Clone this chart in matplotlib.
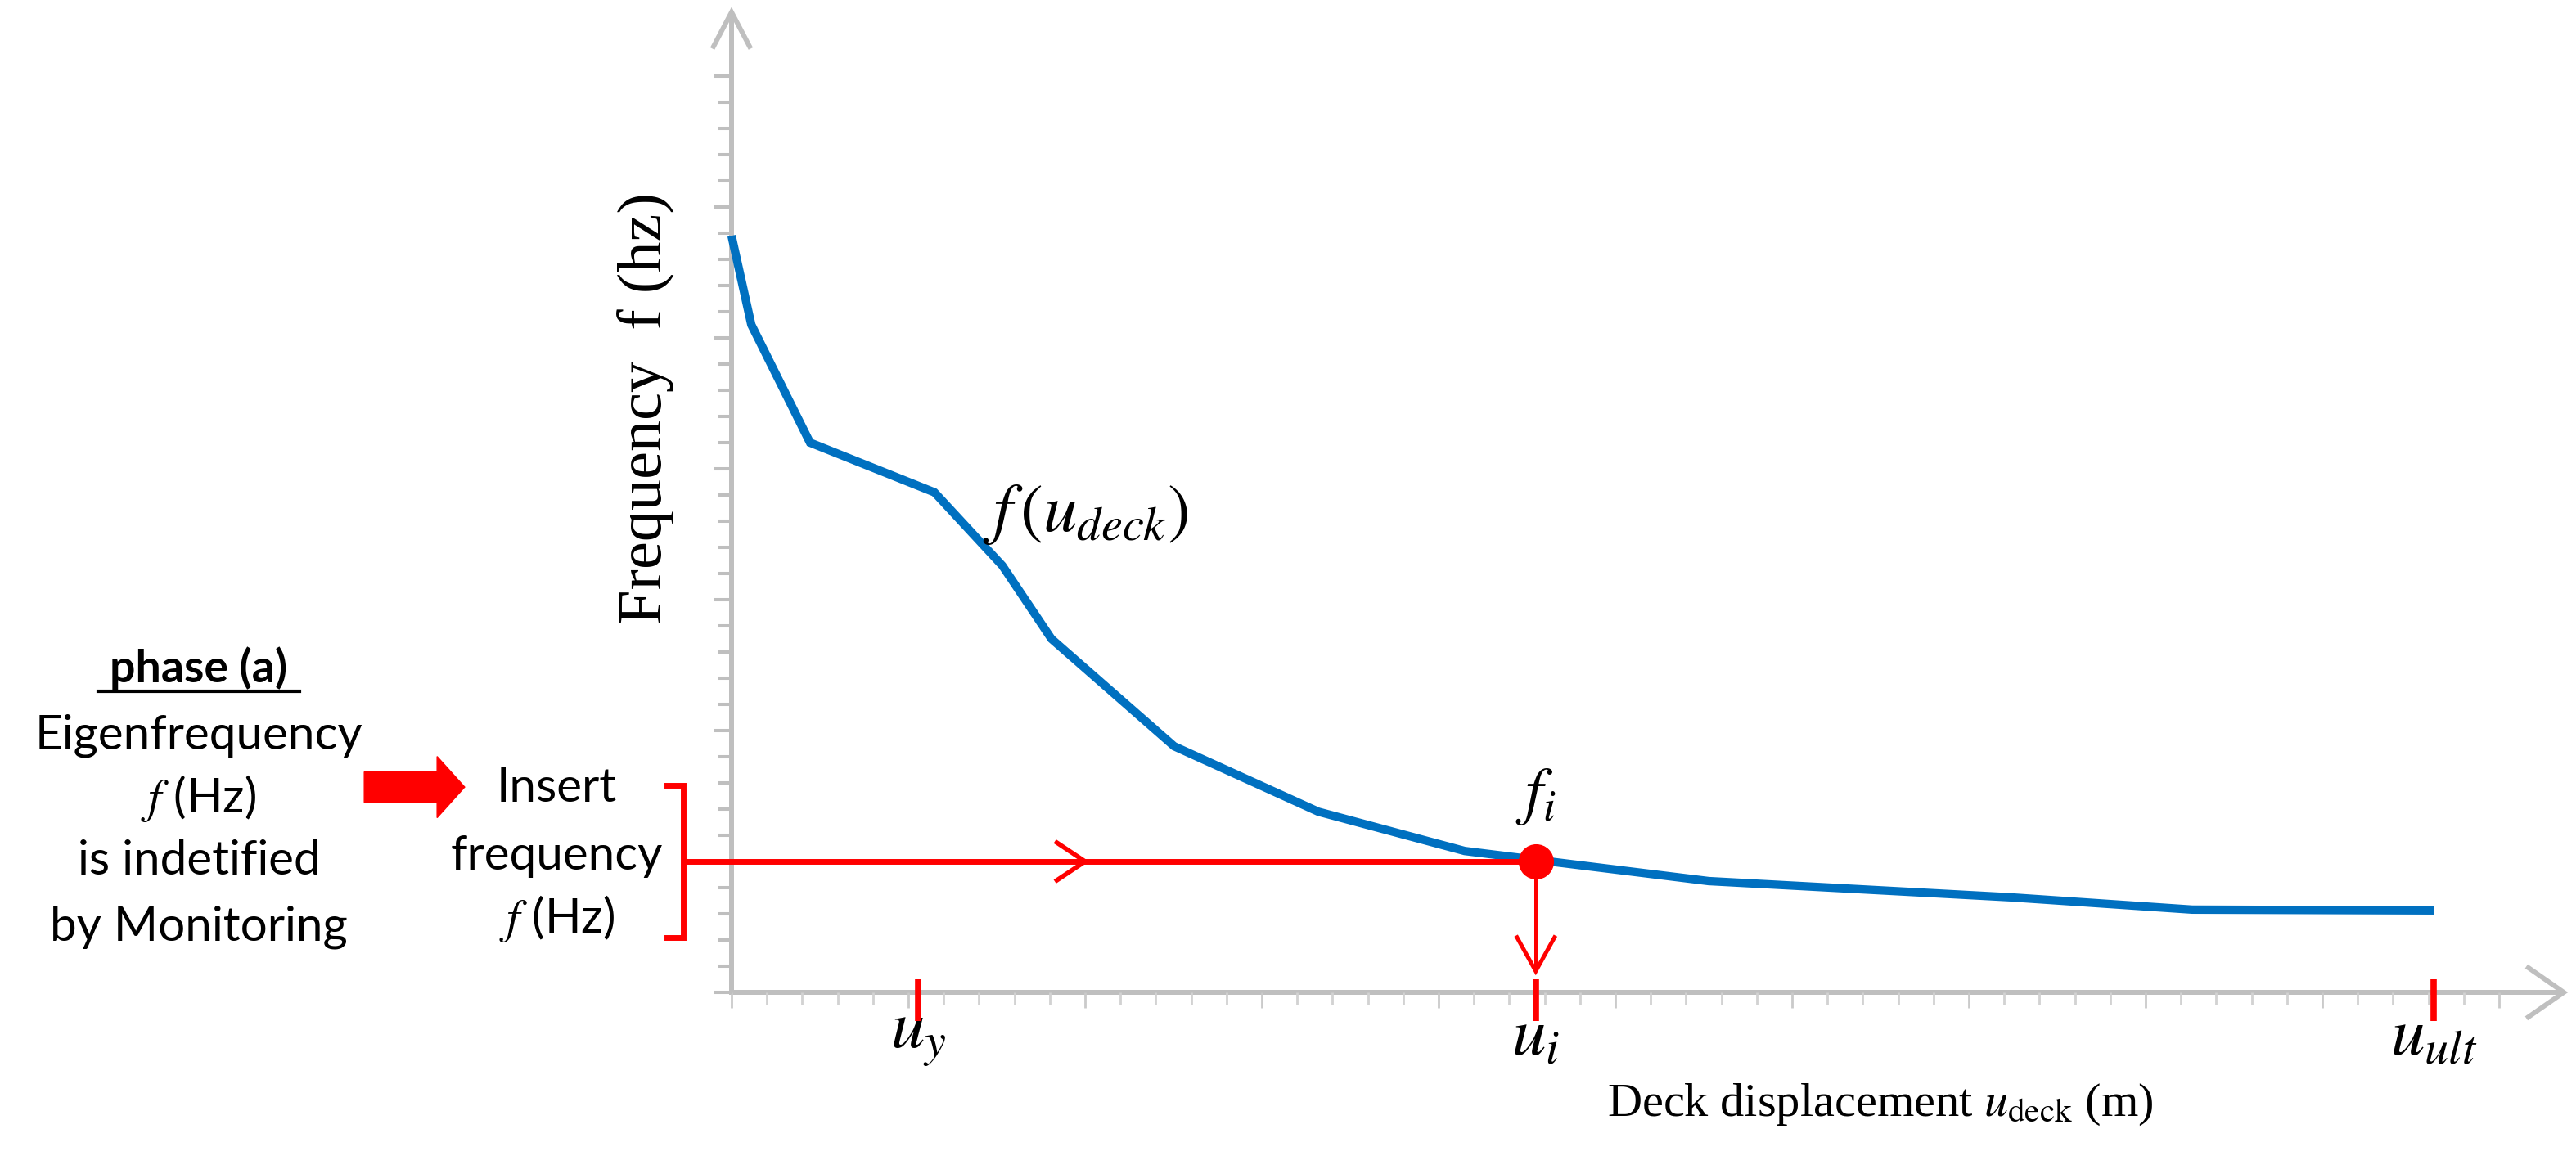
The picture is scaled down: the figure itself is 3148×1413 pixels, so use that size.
import matplotlib
matplotlib.use("Agg")
import matplotlib.pyplot as plt
from matplotlib.patches import Polygon
from matplotlib.ticker import FixedLocator

# ---------------- data ----------------
u_deck = [0.0, 0.56, 2.22, 5.74, 7.66, 9.05, 12.52, 16.6, 20.74, 27.64, 36.18, 41.32, 48.15]
freq = [28.9, 25.5, 21.0, 19.1, 16.3, 13.5, 9.4, 6.9, 5.4, 4.25, 3.63, 3.16, 3.13]
u_y = 5.28
u_i = 22.75
u_ult = 48.15
f_i = 5.0
x_ticks_major = list(range(0, 51, 5))
x_ticks_minor = list(range(0, 51, 1))
y_ticks_major = list(range(0, 36, 5))
y_ticks_minor = list(range(0, 36, 1))
marker_labels = [r"$u_y$", r"$u_i$", r"$u_{ult}$"]

plt.rcParams["mathtext.fontset"] = "stix"

GREY = "#BFBFBF"
BLUE = "#0070C0"
RED = "#FF0000"

fig = plt.figure(figsize=(31.48, 14.13), dpi=100)
ax = fig.add_axes([0.28399, 0.14154, 0.71359, 0.8561])
ax.set_xlim(0, 52)
ax.set_ylim(0, 37.8)
for s in ax.spines.values():
    s.set_visible(False)

ax.xaxis.set_major_locator(FixedLocator(x_ticks_major))
ax.xaxis.set_minor_locator(FixedLocator(x_ticks_minor))
ax.yaxis.set_major_locator(FixedLocator(y_ticks_major))
ax.yaxis.set_minor_locator(FixedLocator(y_ticks_minor))
ax.tick_params(labelbottom=False, labelleft=False)
ax.tick_params(axis="y", which="major", length=15.8, width=2.9, color=GREY, direction="out")
ax.tick_params(axis="y", which="minor", length=12.0, width=2.9, color=GREY, direction="out")
ax.tick_params(axis="x", which="major", length=14.0, width=2.0, color="#CACACA", direction="out")
ax.tick_params(axis="x", which="minor", length=10.5, width=2.0, color="#D2D2D2", direction="out")

# axis lines with open arrow heads
y_tip, x_tip = 37.44, 51.83
ax.plot([0, 0], [-0.09, y_tip], color=GREY, lw=4.3, clip_on=False, solid_capstyle="butt", zorder=1)
ax.plot([0, x_tip], [0, 0], color=GREY, lw=4.3, clip_on=False, solid_capstyle="butt", zorder=1)
ax.plot([-0.51, 0, 0.51], [y_tip - 1.31, y_tip, y_tip - 1.31], color=GREY, lw=4.3,
        clip_on=False, solid_joinstyle="miter", zorder=1)
ax.plot([x_tip - 1.0, x_tip, x_tip - 1.0], [0.94, 0, -0.94], color=GREY, lw=4.3,
        clip_on=False, solid_joinstyle="miter", zorder=1)

# curve
ax.plot(u_deck, freq, color=BLUE, lw=7.4, solid_joinstyle="miter", solid_capstyle="butt",
        clip_on=False, zorder=3)

# bracket + horizontal red line with chevron
bx, bx0 = -1.37, -1.83
ax.plot([bx0, bx, bx, bx0], [7.9, 7.9, 2.1, 2.1], color=RED, lw=5, clip_on=False,
        solid_joinstyle="miter", zorder=4)
ax.plot([bx, u_i], [f_i, f_i], color=RED, lw=5, clip_on=False, solid_capstyle="butt", zorder=4)
ax.plot([9.2, 10.0, 9.2], [f_i + 0.72, f_i, f_i - 0.72], color=RED, lw=4, clip_on=False,
        solid_joinstyle="miter", zorder=4)

# vertical red arrow down
ax.plot([u_i, u_i], [f_i, 0.85], color=RED, lw=3.6, solid_capstyle="butt", zorder=4)
ax.plot([u_i - 0.53, u_i, u_i + 0.53], [2.1, 0.81, 2.1], color=RED, lw=3.6,
        solid_joinstyle="miter", zorder=4)
ax.plot([u_i], [f_i], marker="o", ms=30, color=RED, zorder=5, clip_on=False)

# red ticks on x axis and labels
for xv, lab in zip([u_y, u_i, u_ult], marker_labels):
    ax.plot([xv, xv], [0.5, -1.09], color=RED, lw=5.5, clip_on=False, solid_capstyle="butt", zorder=4)
    ax.text(xv, -1.65, lab, ha="center", va="center", fontsize=60, clip_on=False)

ax.text(u_i, 7.5, r"$f_i$", ha="center", va="center", fontsize=56)
ax.text(7.1, 18.3, r"$f\,(u_{deck})$", ha="left", va="center", fontsize=60)

# axis titles
ax.text(-2.4, 22.3, "Frequency  f (hz)", rotation=90, ha="center", va="center",
        fontsize=55, family="Liberation Serif", clip_on=False)
ax.text(32.5, -4.3, r"Deck displacement $u_{\mathrm{deck}}$ (m)", ha="center", va="center",
        fontsize=42, family="Liberation Serif", clip_on=False)

# left annotation block
left_font = ["Lato", "DejaVu Sans"]
lx = -15.07
ax.text(lx, 12.4, "phase (a)", ha="center", va="center", fontsize=40, fontweight="bold",
        family=left_font, clip_on=False)
ax.plot([lx - 2.84, lx + 2.84], [11.5, 11.5], color="black", lw=3, clip_on=False)
for yv, s in zip([9.8, 7.4, 5.0, 2.5], ["Eigenfrequency", r"$f$ (Hz)", "is indetified", "by Monitoring"]):
    ax.text(lx, yv, s, ha="center", va="center", fontsize=42, family=left_font, clip_on=False)
ix = -4.95
for yv, s in zip([7.8, 5.2, 2.8], ["Insert", "frequency", r"$f$ (Hz)"]):
    ax.text(ix, yv, s, ha="center", va="center", fontsize=42, family=left_font, clip_on=False)

# big red block arrow
cy = 7.84
arrow = Polygon([(-10.39, cy - 0.58), (-8.33, cy - 0.58), (-8.33, cy - 1.17), (-7.55, cy),
                 (-8.33, cy + 1.17), (-8.33, cy + 0.58), (-10.39, cy + 0.58)],
                closed=True, color=RED, clip_on=False, zorder=4)
ax.add_patch(arrow)

fig.savefig("out.png", dpi=100, facecolor="white")
